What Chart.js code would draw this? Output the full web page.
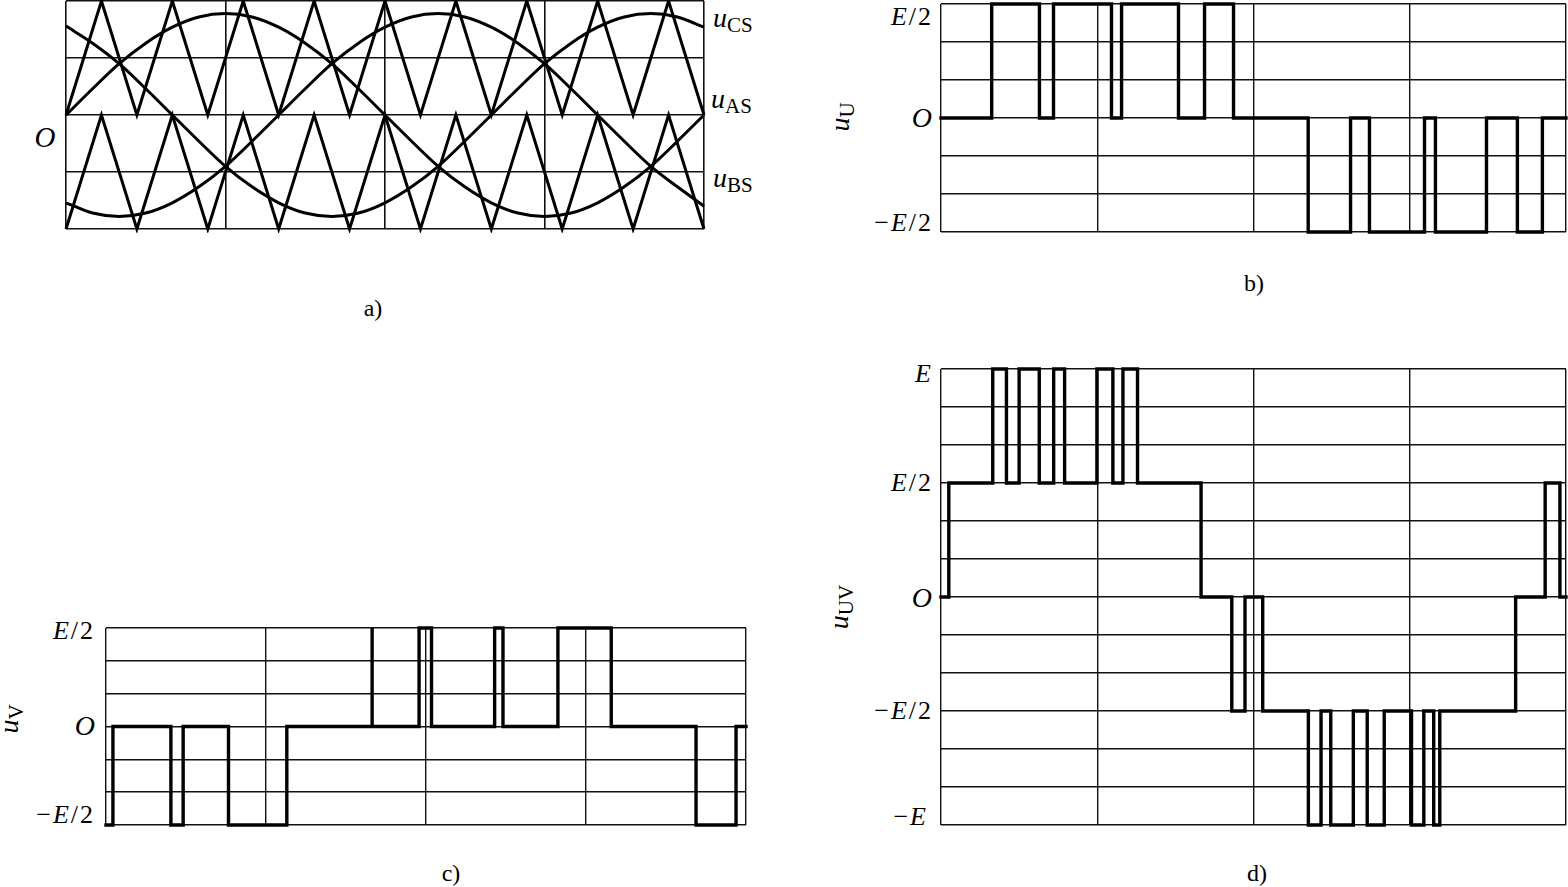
<!DOCTYPE html>
<html>
<head>
<meta charset="utf-8">
<script src="https://cdn.jsdelivr.net/npm/chart.js@4/dist/chart.umd.min.js"></script>
<style>
  html,body{margin:0;padding:0;background:#fff;}
  body{width:1568px;height:887px;position:relative;overflow:hidden;font-family:"Liberation Serif","DejaVu Serif",serif;color:#000;}
  canvas{position:absolute;}
  .t{position:absolute;line-height:1;white-space:nowrap;font-size:24px;}
  .i{font-style:italic;}
  .r{transform:translateY(-50%);text-align:right;}
  .ctr{transform:translate(-50%,-50%);}
  .rot{transform:translate(-50%,-50%) rotate(-90deg);}
  .lab{letter-spacing:2px;font-size:26px;}
  .u{font-style:italic;font-size:28px;}
  .s{font-size:21px;vertical-align:-5px;font-style:normal;}
</style>
</head>
<body>
<canvas id="ca" width="646" height="236" style="left:62px;top:-3px;"></canvas>
<canvas id="cb" width="633" height="236" style="left:937px;top:0px;"></canvas>
<canvas id="cc" width="648" height="205" style="left:102px;top:624px;"></canvas>
<canvas id="cd" width="633" height="464" style="left:937px;top:365px;"></canvas>

<!-- panel a texts -->
<div class="t i ctr" style="left:45px;top:137px;font-size:29px;">O</div>
<div class="t" style="left:713px;top:4px;"><span class="u">u</span><span class="s">CS</span></div>
<div class="t" style="left:711px;top:85px;"><span class="u">u</span><span class="s">AS</span></div>
<div class="t" style="left:713px;top:164px;"><span class="u">u</span><span class="s">BS</span></div>
<div class="t ctr" style="left:373px;top:308px;">a)</div>

<!-- panel b texts -->
<div class="t r lab" style="right:635px;top:17px;"><i>E</i>/2</div>
<div class="t r i" style="right:636px;top:118px;font-size:28px;">O</div>
<div class="t r lab" style="right:635px;top:223px;">−<i>E</i>/2</div>
<div class="t rot" style="left:842px;top:117px;"><span class="u">u</span><span class="s">U</span></div>
<div class="t ctr" style="left:1254px;top:283px;">b)</div>

<!-- panel c texts -->
<div class="t r lab" style="right:1473px;top:631px;"><i>E</i>/2</div>
<div class="t r i" style="right:1473px;top:726px;font-size:28px;">O</div>
<div class="t r lab" style="right:1473px;top:815px;">−<i>E</i>/2</div>
<div class="t rot" style="left:11px;top:719px;"><span class="u">u</span><span class="s">V</span></div>
<div class="t ctr" style="left:451px;top:873px;">c)</div>

<!-- panel d texts -->
<div class="t r i" style="right:637px;top:374px;font-size:26px;">E</div>
<div class="t r lab" style="right:635px;top:483px;"><i>E</i>/2</div>
<div class="t r i" style="right:636px;top:598px;font-size:28px;">O</div>
<div class="t r lab" style="right:635px;top:711px;">−<i>E</i>/2</div>
<div class="t r lab" style="right:640px;top:817px;">−<i>E</i></div>
<div class="t rot" style="left:841px;top:607px;"><span class="u">u</span><span class="s">UV</span></div>
<div class="t ctr" style="left:1257px;top:873px;">d)</div>

<script>
// ---------- shared grid values (degrees of the fundamental) ----------
const angleGrid = [0, 90, 180, 270, 360];

// ---------- panel a: modulating sines and two carriers ----------
const sineAngles = [0,15,30,45,60,75,90,105,120,135,150,165,180,195,210,225,240,255,270,285,300,315,330,345,360];
const uAS = [0,0.23,0.45,0.63,0.77,0.86,0.89,0.86,0.77,0.63,0.45,0.23,0,-0.23,-0.45,-0.63,-0.77,-0.86,-0.89,-0.86,-0.77,-0.63,-0.45,-0.23,0];
const uBS = [-0.77,-0.86,-0.89,-0.86,-0.77,-0.63,-0.45,-0.23,0,0.23,0.45,0.63,0.77,0.86,0.89,0.86,0.77,0.63,0.45,0.23,0,-0.23,-0.45,-0.63,-0.8];
const uCS = [0.78,0.63,0.45,0.23,0,-0.23,-0.45,-0.63,-0.77,-0.86,-0.89,-0.86,-0.77,-0.63,-0.45,-0.23,0,0.23,0.45,0.63,0.77,0.86,0.89,0.86,0.77];
const carrierAngles = [0,20,40,60,80,100,120,140,160,180,200,220,240,260,280,300,320,340,360];
const carrierUpper = [0,1,0,1,0,1,0,1,0,1,0,1,0,1,0,1,0,1,0];
const carrierLower = [-1,0,-1,0,-1,0,-1,0,-1,0,-1,0,-1,0,-1,0,-1,0,-1];
const gridA = [-1,-0.5,0,0.5,1];

// ---------- panel b: u_U (units of E/2) ----------
const uUAngles = [0,29.2,56.7,64.8,98.2,104,136.8,151.8,168.5,211.5,235.9,246.8,278.5,284.8,314.2,332,346.4,360];
const uULevels = [0,1,0,1,0,1,0,1,0,-1,0,-1,0,-1,0,-1,0,0];
const grid6 = [-1,-2/3,-1/3,0,1/3,2/3,1];

// ---------- panel c: u_V (units of E/2) ----------
const uVAngles = [0,3.9,36.5,43.4,68.9,101.7,149.7,149.7,176.1,183.1,218.6,223.3,254.2,284.2,331.9,354.4,360];
const uVLevels = [-1,0,-1,0,-1,0,1,0,1,0,1,0,1,0,-1,0,0];

// ---------- panel d: u_UV (units of E/2) ----------
const uUVAngles = [0,4.5,29.8,37.7,45,56.6,64.9,71.2,89.8,99,104.8,113.2,149.8,167.5,175.1,185.3,211.6,218.9,224.5,237.5,245.5,255.3,271,278.1,283.8,287.3,331,348,356.5,360];
const uUVLevels = [0,1,2,1,2,1,2,1,2,1,2,1,0,-1,0,-1,-2,-1,-2,-1,-2,-1,-2,-1,-2,-1,0,1,0,0];
const grid12 = [-2,-5/3,-4/3,-1,-2/3,-1/3,0,1/3,2/3,1,4/3,5/3,2];

function pts(xs, ys){ return xs.map((x,i)=>({x:x, y:ys[i]})); }

function makeChart(id, datasets, yMin, yMax, yGrid, gridW){
  return new Chart(document.getElementById(id), {
    type: 'line',
    data: { datasets: datasets },
    options: {
      responsive: false,
      animation: false,
      events: [],
      layout: { padding: 4 },
      plugins: { legend: { display: false }, tooltip: { enabled: false } },
      elements: { point: { radius: 0 } },
      scales: {
        x: {
          type: 'linear', min: 0, max: 360,
          afterBuildTicks: s => { s.ticks = angleGrid.map(v => ({ value: v })); },
          ticks: { display: false },
          grid: { drawTicks: false, color: '#111', lineWidth: gridW },
          border: { display: false }
        },
        y: {
          type: 'linear', min: yMin, max: yMax,
          afterBuildTicks: s => { s.ticks = yGrid.map(v => ({ value: v })); },
          ticks: { display: false },
          grid: { drawTicks: false, color: '#111', lineWidth: gridW },
          border: { display: false }
        }
      }
    }
  });
}

function stepSet(xs, ys){
  return { data: pts(xs, ys), stepped: true, borderColor: '#000', borderWidth: 3.4,
           borderJoinStyle: 'miter', borderCapStyle: 'square', fill: false, clip: false };
}
function curveSet(xs, ys){
  return { data: pts(xs, ys), borderColor: '#000', borderWidth: 3, cubicInterpolationMode: 'monotone', fill: false, clip: false };
}
function triSet(xs, ys){
  return { data: pts(xs, ys), borderColor: '#000', borderWidth: 3, tension: 0, borderJoinStyle: 'miter', fill: false, clip: false };
}

makeChart('ca', [
  curveSet(sineAngles, uAS),
  curveSet(sineAngles, uBS),
  curveSet(sineAngles, uCS),
  triSet(carrierAngles, carrierUpper),
  triSet(carrierAngles, carrierLower)
], -1, 1, gridA, 1.6);

makeChart('cb', [stepSet(uUAngles, uULevels)], -1, 1, grid6, 1.4);
makeChart('cc', [stepSet(uVAngles, uVLevels)], -1, 1, grid6, 1.4);
makeChart('cd', [stepSet(uUVAngles, uUVLevels)], -2, 2, grid12, 1.4);
</script>
</body>
</html>
